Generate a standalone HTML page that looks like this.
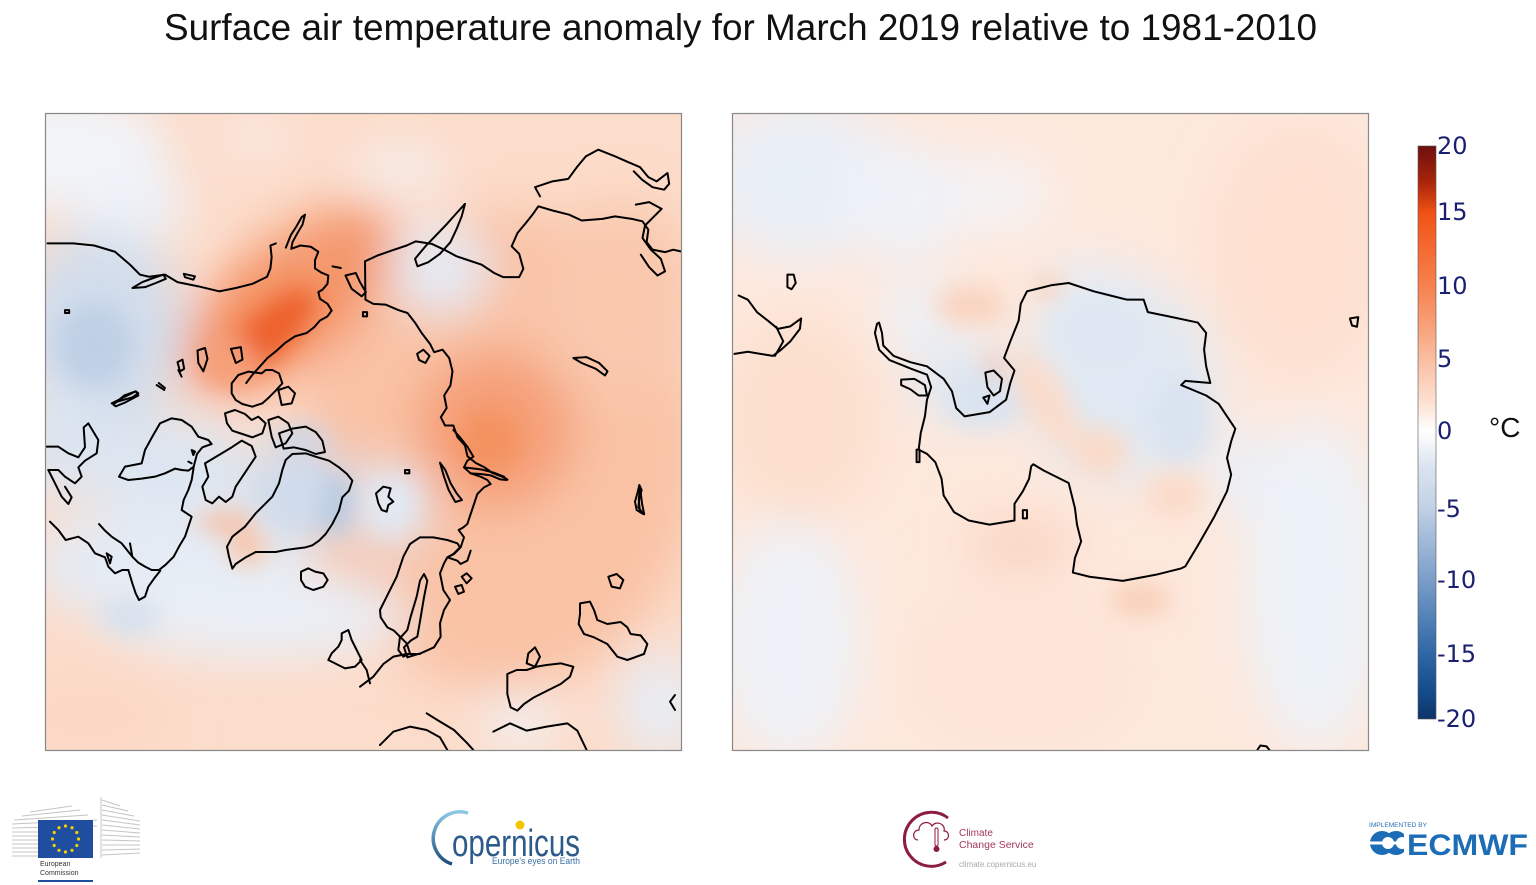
<!DOCTYPE html>
<html><head><meta charset="utf-8">
<style>
html,body{margin:0;padding:0;background:#fff;}
svg{display:block;}
text{font-family:"Liberation Sans",sans-serif;}
.cl path{fill:none;stroke:#000;stroke-width:2;stroke-linejoin:round;stroke-linecap:round;}
.cb text{font-family:"DejaVu Sans","Liberation Sans",sans-serif;font-size:24px;fill:#1b1f70;}
</style></head>
<body>
<svg width="1536" height="885" viewBox="0 0 1536 885" xmlns="http://www.w3.org/2000/svg">
<defs>
<clipPath id="cL"><rect x="45" y="113" width="637" height="638"/></clipPath>
<clipPath id="cR"><rect x="732" y="113" width="637" height="638"/></clipPath>
<filter id="b1" x="-60%" y="-60%" width="220%" height="220%"><feGaussianBlur stdDeviation="24"/></filter>
<filter id="b2" x="-60%" y="-60%" width="220%" height="220%"><feGaussianBlur stdDeviation="12"/></filter>
<linearGradient id="cbg" x1="0" y1="0" x2="0" y2="1">
<stop offset="0" stop-color="#6e0f0f"/>
<stop offset="0.06" stop-color="#a5230a"/>
<stop offset="0.117" stop-color="#f05214"/>
<stop offset="0.18" stop-color="#f56a32"/>
<stop offset="0.246" stop-color="#f6824f"/>
<stop offset="0.32" stop-color="#f8a47c"/>
<stop offset="0.373" stop-color="#fabea2"/>
<stop offset="0.45" stop-color="#fde2d4"/>
<stop offset="0.498" stop-color="#ffffff"/>
<stop offset="0.56" stop-color="#dbe4f0"/>
<stop offset="0.634" stop-color="#c0d0e5"/>
<stop offset="0.70" stop-color="#9ab5d6"/>
<stop offset="0.758" stop-color="#7a9dc9"/>
<stop offset="0.82" stop-color="#5483b8"/>
<stop offset="0.887" stop-color="#2f66a5"/>
<stop offset="0.95" stop-color="#154d8c"/>
<stop offset="1" stop-color="#0d3468"/>
</linearGradient>
<linearGradient id="cop" x1="0" y1="0" x2="0" y2="1">
<stop offset="0" stop-color="#8cc8e6"/>
<stop offset="1" stop-color="#1d4d7d"/>
</linearGradient>
</defs>

<rect width="1536" height="885" fill="#fff"/>

<!-- Title -->
<text x="164" y="40" font-size="37" fill="#111" textLength="1153" lengthAdjust="spacingAndGlyphs">Surface air temperature anomaly for March 2019 relative to 1981-2010</text>

<!-- LEFT MAP heat -->
<g clip-path="url(#cL)">
<rect x="45" y="113" width="637" height="638" fill="#fcdcca"/>
<g filter="url(#b1)">
<ellipse cx="500" cy="450" rx="200" ry="240" fill="#f9c2a5"/>
<ellipse cx="620" cy="300" rx="80" ry="100" fill="#f9c8ad"/>
<ellipse cx="60" cy="150" rx="110" ry="60" fill="#f1f4f9"/>
<ellipse cx="130" cy="205" rx="60" ry="40" fill="#eef2f8"/>
<ellipse cx="100" cy="330" rx="85" ry="100" fill="#d1ddec"/>
<ellipse cx="60" cy="440" rx="40" ry="60" fill="#dbe5f1"/>
<ellipse cx="170" cy="470" rx="85" ry="55" fill="#dde6f1"/>
<ellipse cx="170" cy="565" rx="140" ry="60" fill="#e4ebf4"/>
<ellipse cx="260" cy="615" rx="150" ry="45" fill="#e9eff6"/>
<ellipse cx="90" cy="715" rx="80" ry="45" fill="#fbd8c5"/>
<ellipse cx="300" cy="490" rx="48" ry="48" fill="#ccdaeb"/>
<ellipse cx="390" cy="505" rx="38" ry="42" fill="#e0e8f2"/>
<ellipse cx="440" cy="270" rx="50" ry="45" fill="#e4ebf4"/>
<ellipse cx="400" cy="168" rx="50" ry="20" fill="#f4f2f3"/>
<ellipse cx="255" cy="138" rx="40" ry="15" fill="#f6f1f0"/>
<ellipse cx="660" cy="705" rx="40" ry="55" fill="#e6edf5"/>
<ellipse cx="520" cy="722" rx="40" ry="28" fill="#f1f0f2"/>
<ellipse cx="290" cy="300" rx="125" ry="60" transform="rotate(-40 290 300)" fill="#f48f60"/>
<ellipse cx="320" cy="258" rx="50" ry="32" fill="#f49a70"/>
<ellipse cx="495" cy="430" rx="80" ry="80" fill="#f59f77"/>
</g>
<g filter="url(#b2)">
<ellipse cx="95" cy="345" rx="38" ry="42" fill="#bfd0e5"/>
<ellipse cx="268" cy="335" rx="62" ry="22" transform="rotate(-45 268 335)" fill="#ed6029"/>
<ellipse cx="228" cy="362" rx="30" ry="22" fill="#f6a07a"/>
<ellipse cx="335" cy="505" rx="16" ry="30" fill="#b4c8e0"/>
<ellipse cx="300" cy="440" rx="28" ry="12" fill="#c9d8ea"/>
<ellipse cx="295" cy="495" rx="32" ry="30" fill="#d0dcec"/>
<ellipse cx="392" cy="505" rx="22" ry="28" fill="#e2e9f3"/>
<ellipse cx="225" cy="522" rx="28" ry="10" fill="#f8bb9e"/>
<ellipse cx="248" cy="548" rx="20" ry="18" fill="#f9c6ab"/>
<ellipse cx="130" cy="617" rx="30" ry="18" fill="#d5e0ee"/>
<ellipse cx="490" cy="440" rx="30" ry="30" fill="#f4925f"/>
</g>
</g>

<!-- RIGHT MAP heat -->
<g clip-path="url(#cR)">
<rect x="732" y="113" width="637" height="638" fill="#fde8dc"/>
<g filter="url(#b1)">
<ellipse cx="1300" cy="250" rx="90" ry="130" fill="#fde0d0"/>
<ellipse cx="800" cy="420" rx="80" ry="100" fill="#fcdfcd"/>
<ellipse cx="800" cy="180" rx="95" ry="80" fill="#e9eff7"/>
<ellipse cx="905" cy="200" rx="60" ry="60" fill="#eef2f8"/>
<ellipse cx="920" cy="315" rx="40" ry="35" fill="#edf2f8"/>
<ellipse cx="960" cy="380" rx="50" ry="40" fill="#e0e8f3"/>
<ellipse cx="1120" cy="380" rx="95" ry="100" fill="#e0e9f3"/>
<ellipse cx="1090" cy="285" rx="45" ry="25" fill="#e6edf6"/>
<ellipse cx="790" cy="640" rx="70" ry="120" fill="#eef2f8"/>
<ellipse cx="1020" cy="670" rx="110" ry="80" fill="#fce4d6"/>
<ellipse cx="1315" cy="585" rx="70" ry="165" fill="#edf2f8"/>
<ellipse cx="1000" cy="195" rx="50" ry="40" fill="#f5f3f4"/>
<ellipse cx="1240" cy="470" rx="30" ry="45" fill="#eaeff7"/>
<ellipse cx="1020" cy="545" rx="55" ry="25" fill="#f9d3bf"/>
</g>
<g filter="url(#b2)">
<ellipse cx="985" cy="400" rx="40" ry="28" fill="#d9e3f0"/>
<ellipse cx="1180" cy="420" rx="30" ry="45" fill="#d9e3f0"/>
<ellipse cx="1100" cy="330" rx="50" ry="40" fill="#dfe8f2"/>
<ellipse cx="1045" cy="400" rx="22" ry="55" transform="rotate(-30 1045 400)" fill="#fbdcca"/>
<ellipse cx="970" cy="305" rx="35" ry="18" fill="#f9d2bd"/>
<ellipse cx="1140" cy="600" rx="30" ry="16" fill="#f8ceb6"/>
<ellipse cx="1100" cy="452" rx="28" ry="25" fill="#fbdac8"/>
<ellipse cx="1175" cy="495" rx="28" ry="22" fill="#fbdac8"/>
<ellipse cx="994" cy="366" rx="8" ry="10" fill="#f4b596"/>
<ellipse cx="1048" cy="287" rx="14" ry="8" fill="#f7c4a8"/>
</g>
</g>

<!-- LEFT coastlines (zoom4 coords) -->
<g class="cl" clip-path="url(#cL)">
<g transform="translate(40 108) scale(0.416667)">
<path vector-effect="non-scaling-stroke" d="M18,325 L80,325 L130,330 L180,345 L215,375 L240,400 L262,405 L300,400 L330,418 L380,428 L430,440 L470,432 L510,422 L545,405 L553,385 L556,358 L553,330 L566,325"/>
<path vector-effect="non-scaling-stroke" d="M590,335 L602,305 L615,285 L628,262 L636,256 L630,280 L618,300 L606,322 L603,338 L625,330 L650,333 L668,345 L660,365 L660,385 L675,395 L692,402 L690,422 L678,436 L668,442 L672,458 L690,470 L700,486 L690,500 L672,510 L658,526 L640,540 L612,548 L588,564 L566,584 L546,600 L528,620 L510,640 L495,660"/>
<path vector-effect="non-scaling-stroke" d="M222,432 L245,418 L272,408 L296,400 L302,410 L278,420 L252,430 Z"/>
<path vector-effect="non-scaling-stroke" d="M345,398 L372,404 L368,412 L348,406 Z"/>
<path vector-effect="non-scaling-stroke" d="M60,485 L70,485 L70,492 L60,492 Z"/>
<path vector-effect="non-scaling-stroke" d="M733,402 L758,396 L768,418 L782,442 L772,452 L748,434 Z"/>
<path vector-effect="non-scaling-stroke" d="M702,380 L722,384"/>
<path vector-effect="non-scaling-stroke" d="M780,368 L781,460 L800,470 L830,472 L860,485 L882,492 L900,515 L916,540 L936,566 L946,586 L966,580 L982,600 L990,632 L985,666 L970,690 L976,720 L962,742 L972,762 L992,762 L1002,790 L1020,810 L1026,836 L1046,852 L1066,862 L1086,876 L1112,886 L1122,892"/>
<path vector-effect="non-scaling-stroke" d="M780,368 L810,354 L850,340 L880,330 L902,320 L940,326 L970,340 L1000,356 L1030,366 L1060,376 L1090,396 L1112,406 L1150,406 L1160,386 L1150,350 L1132,332 L1146,300 L1166,276 L1182,256 L1196,236 L1230,246 L1270,256 L1300,270 L1350,266 L1380,260 L1420,266 L1446,272 L1460,292 L1456,322 L1470,340 L1500,346 L1520,340 L1546,346"/>
<path vector-effect="non-scaling-stroke" d="M1200,212 L1188,190 L1230,176 L1268,170 L1290,140 L1310,116 L1340,100 L1380,116 L1412,130 L1440,142 L1460,166 L1480,176 L1506,156 L1510,182 L1498,196 L1470,190 L1445,172 L1425,152"/>
<path vector-effect="non-scaling-stroke" d="M1430,232 L1462,226 L1492,242 L1472,262 L1452,282 L1446,312 L1466,340 L1490,362 L1500,392 L1482,402 L1462,382 L1442,352"/>
<path vector-effect="non-scaling-stroke" d="M1020,230 L1000,252 L975,280 L950,306 L925,332 L900,362 L906,380 L932,370 L960,350 L985,322 L1000,290 L1012,260 Z"/>
<path vector-effect="non-scaling-stroke" d="M1280,600 L1312,598 L1342,612 L1362,632 L1356,642 L1334,626 L1300,612 Z"/>
<path vector-effect="non-scaling-stroke" d="M1440,910 L1445,950 L1450,975 L1440,970 L1437,940 Z"/>
<path vector-effect="non-scaling-stroke" d="M378,582 L396,576 L402,602 L392,632 L380,612 Z"/>
<path vector-effect="non-scaling-stroke" d="M458,578 L482,574 L486,604 L470,612 Z"/>
<path vector-effect="non-scaling-stroke" d="M330,610 L342,604 L346,626 L336,632 Z"/>
<path vector-effect="non-scaling-stroke" d="M176,712 L202,690 L230,680 L236,690 L206,706 L182,716 Z"/>
<path vector-effect="non-scaling-stroke" d="M285,660 L300,672"/>
<path vector-effect="non-scaling-stroke" d="M775,490 L785,490 L785,500 L775,500 Z"/>
<path vector-effect="non-scaling-stroke" d="M905,590 L920,580 L935,595 L925,612 L910,605 Z"/>
</g>
<!-- zoom8 coords -->
<g transform="translate(45 370) scale(0.333333)">
<path vector-effect="non-scaling-stroke" d="M222,320 L240,290 L290,280 L300,240 L322,200 L345,160 L380,145 L410,150 L440,170 L460,200 L490,210 L500,222 L472,232 L456,252 L446,290 L430,302 L410,300 L390,296 L360,310 L330,320 L290,326 L250,330 Z"/>
<path vector-effect="non-scaling-stroke" d="M446,292 L440,330 L430,360 L416,390 L410,420 L440,440 L430,470 L420,500 L402,530 L386,560 L362,584 L342,600 L320,600 L300,590 L280,578 L262,560 L246,540 L230,520 L200,500 L180,482 L162,462"/>
<path vector-effect="non-scaling-stroke" d="M250,600 L262,640 L272,670 L282,690 L300,680 L310,650 L330,622 L346,602"/>
<path vector-effect="non-scaling-stroke" d="M15,455 L40,480 L62,510 L100,500 L130,520 L150,550 L180,562 L190,590 L210,610 L232,600 L250,600"/>
<path vector-effect="non-scaling-stroke" d="M5,230 L40,230 L70,250 L100,262 L120,232 L116,172 L130,160 L160,210 L155,250 L120,272 L100,292 L110,320 L90,340 L60,320 L40,300 L10,300"/>
<path vector-effect="non-scaling-stroke" d="M10,300 L30,340 L50,380 L70,402 L80,382 L60,350"/>
<path vector-effect="non-scaling-stroke" d="M200,100 L240,80 L272,64 L280,70 L262,82 Z"/>
<path vector-effect="non-scaling-stroke" d="M335,45 L358,60"/>
<path vector-effect="non-scaling-stroke" d="M400,0 L410,20"/>
<path vector-effect="non-scaling-stroke" d="M185,550 L195,580 L200,560 Z"/>
<path vector-effect="non-scaling-stroke" d="M255,520 L262,560"/>
<path vector-effect="non-scaling-stroke" d="M480,280 L500,268 L530,250 L560,232 L590,212 L620,228 L632,260 L612,290 L592,320 L572,350 L562,380 L542,396 L522,380 L502,400 L482,390 L472,350 L490,320 Z"/>
<path vector-effect="non-scaling-stroke" d="M560,40 L580,15 L610,5 L650,10 L662,0 L682,0 L702,10 L712,40 L692,62 L672,82 L652,100 L622,110 L592,102 L572,90 L560,70 Z"/>
<path vector-effect="non-scaling-stroke" d="M540,130 L570,120 L600,132 L620,150 L640,140 L662,160 L652,190 L622,202 L592,192 L562,182 L546,160 Z"/>
<path vector-effect="non-scaling-stroke" d="M670,150 L700,140 L730,160 L742,190 L722,220 L692,232 L680,200 Z"/>
<path vector-effect="non-scaling-stroke" d="M702,190 L742,176 L782,170 L812,186 L832,212 L840,246 L812,252 L782,240 L746,232 L716,236 Z"/>
<path vector-effect="non-scaling-stroke" d="M700,60 L730,50 L750,70 L740,100 L710,105 Z"/>
<path vector-effect="non-scaling-stroke" d="M552,560 L546,530 L562,500 L600,470 L632,430 L652,410 L682,380 L702,340 L712,300 L722,270 L742,252 L782,250 L812,260 L852,272 L882,292 L906,312 L922,332 L912,362 L892,382 L882,422 L862,462 L842,492 L822,512 L802,526 L782,532 L752,536 L722,540 L692,546 L662,546 L632,546 L602,562 L572,582 L562,596 Z"/>
<path vector-effect="non-scaling-stroke" d="M768,605 L790,595 L810,605 L835,610 L848,630 L835,650 L805,660 L780,650 L768,630 Z"/>
<path vector-effect="non-scaling-stroke" d="M440,240 L450,245 L445,255 Z"/>
<path vector-effect="non-scaling-stroke" d="M430,275 L440,280"/>
<path vector-effect="non-scaling-stroke" d="M890,790 L910,780 L920,810 L935,840 L950,870 L930,890 L900,895 L870,880 L850,870 L860,850 L880,830 L890,810 Z"/>
</g>
<!-- zoom9 coords -->
<g transform="translate(360 430) scale(0.333333)">
<path vector-effect="non-scaling-stroke" d="M280,0 L300,22 L322,50 L340,80 L322,92 L312,112 L332,130 L362,140 L382,150 L392,162 L372,172 L352,192 L342,222 L332,252 L322,282 L310,292 L296,300 L312,322 L302,352 L282,372 L262,382 L292,392 L302,402 L322,392 L332,362"/>
<path vector-effect="non-scaling-stroke" d="M312,112 L362,118 L402,128 L432,140 L440,150 L420,148 L392,136 L362,132 L332,130"/>
<path vector-effect="non-scaling-stroke" d="M240,98 L252,140 L266,180 L286,216 L306,210 L290,190 L272,160 L256,120 Z"/>
<path vector-effect="non-scaling-stroke" d="M48,190 L70,170 L92,175 L85,200 L100,215 L85,225 L80,245 L65,240 L55,220 Z"/>
<path vector-effect="non-scaling-stroke" d="M135,120 L148,120 L148,130 L135,130 Z"/>
<path vector-effect="non-scaling-stroke" d="M60,540 L80,500 L110,440 L130,380 L150,342 L180,322 L220,322 L262,330 L292,340 L300,352 L280,372 L262,382 L252,400 L240,430 L250,480 L270,510 L252,540 L240,580 L242,620 L222,652 L182,670 L142,682 L132,652 L152,632 L172,620 L182,562 L192,502 L202,452 L192,432 L180,452 L170,500 L152,560 L142,600 L122,622 L102,602 L82,592 L62,562 Z"/>
<path vector-effect="non-scaling-stroke" d="M305,440 L320,430 L335,445 L320,460 Z"/>
<path vector-effect="non-scaling-stroke" d="M285,470 L305,465 L312,485 L295,492 Z"/>
<path vector-effect="non-scaling-stroke" d="M120,620 L140,640 L150,670 L130,680 L115,660 Z"/>
<path vector-effect="non-scaling-stroke" d="M0,770 L40,740 L70,702 L100,680 L140,672 L180,672"/>
<path vector-effect="non-scaling-stroke" d="M0,690 L20,720 L30,760"/>
<path vector-effect="non-scaling-stroke" d="M442,732 L470,720 L500,720 L530,710 L560,705 L602,700 L640,710 L630,740 L602,762 L562,782 L522,802 L492,822 L472,842 L452,832 L442,792 L442,762 Z"/>
<path vector-effect="non-scaling-stroke" d="M500,700 L505,670 L525,652 L540,680 L525,710 Z"/>
<path vector-effect="non-scaling-stroke" d="M660,520 L690,515 L702,540 L712,570 L742,582 L782,576 L802,592 L812,612 L842,616 L862,642 L852,672 L802,690 L772,680 L742,642 L702,622 L672,612 L656,582 L660,552 Z"/>
<path vector-effect="non-scaling-stroke" d="M745,440 L770,432 L790,450 L780,475 L755,470 Z"/>
<path vector-effect="non-scaling-stroke" d="M838,165 L832,190 L825,215 L830,240 L850,252 L835,232 L838,205 L845,180 Z"/>
<path vector-effect="non-scaling-stroke" d="M60,945 L100,905 L150,890 L200,900 L240,922 L262,960"/>
<path vector-effect="non-scaling-stroke" d="M200,850 L232,870 L282,900 L322,940 L340,960"/>
<path vector-effect="non-scaling-stroke" d="M400,905 L450,880 L500,902 L560,890 L622,880 L652,902 L680,960"/>
<path vector-effect="non-scaling-stroke" d="M945,795 L930,815 L945,840"/>
</g>
</g>

<!-- RIGHT coastlines (zoom5 coords) -->
<g class="cl" clip-path="url(#cR)">
<g transform="translate(727 108) scale(0.416667)">
<path vector-effect="non-scaling-stroke" d="M365,515 L372,540 L375,570 L400,595 L440,610 L480,620 L520,650 L540,680 L550,720 L570,740 L630,730 L670,700 L680,660 L690,630 L665,600 L680,560 L700,510 L705,470 L720,440 L740,435 L780,425 L820,420 L850,430 L880,440 L920,450 L960,460 L1000,460 L1010,490 L1060,500 L1130,515 L1150,540 L1145,580 L1150,620 L1160,660 L1100,655 L1090,665 L1150,690 L1180,710 L1200,740 L1220,770 L1210,800 L1200,840 L1210,880 L1200,920 L1170,980 L1130,1050 L1100,1100 L1090,1105 L1030,1120 L950,1135 L870,1125 L830,1115 L835,1080 L850,1040 L840,1000 L835,960 L820,900 L790,885 L760,870 L735,855 L730,860 L725,890 L710,920 L690,950 L690,990 L630,1000 L580,990 L545,970 L520,930 L515,890 L500,850 L480,830 L460,820 L465,780 L475,740 L480,700 L490,670 L480,640 L440,625 L390,605 L365,580 L355,540 L360,518 Z"/>
<path vector-effect="non-scaling-stroke" d="M620,635 L640,630 L660,650 L655,680 L640,690 L625,670 Z"/>
<path vector-effect="non-scaling-stroke" d="M418,652 L450,650 L475,665 L480,690 L460,690 L440,675 L418,665 Z"/>
<path vector-effect="non-scaling-stroke" d="M615,695 L630,690 L625,710 Z"/>
<path vector-effect="non-scaling-stroke" d="M455,820 L462,820 L462,850 L455,850 Z"/>
<path vector-effect="non-scaling-stroke" d="M710,965 L720,965 L720,985 L710,985 Z"/>
<path vector-effect="non-scaling-stroke" d="M28,450 L50,460 L72,490 L100,512 L122,530 L152,524 L178,505 L175,530 L152,560 L130,580 L110,595 L80,590 L50,585 L18,590"/>
<path vector-effect="non-scaling-stroke" d="M118,525 L135,560 L115,595"/>
<path vector-effect="non-scaling-stroke" d="M145,400 L160,400 L165,420 L155,435 L145,430 Z"/>
<path vector-effect="non-scaling-stroke" d="M1495,505 L1515,502 L1512,525 L1500,522 Z"/>
<path vector-effect="non-scaling-stroke" d="M1270,1545 L1280,1530 L1295,1532 L1305,1545"/>
</g>
</g>

<!-- Frames -->
<rect x="45.5" y="113.5" width="636" height="637" fill="none" stroke="#888" stroke-width="1.2"/>
<rect x="732.5" y="113.5" width="636" height="637" fill="none" stroke="#888" stroke-width="1.2"/>

<!-- Colorbar -->
<g class="cb">
<rect x="1418" y="146" width="18" height="573" fill="url(#cbg)" stroke="#555" stroke-width="0.6"/>
<text x="1437" y="154">20</text>
<text x="1437" y="220">15</text>
<text x="1437" y="294">10</text>
<text x="1437" y="367">5</text>
<text x="1437" y="439">0</text>
<text x="1437" y="517">-5</text>
<text x="1437" y="588">-10</text>
<text x="1437" y="662">-15</text>
<text x="1437" y="727">-20</text>
</g>
<text x="1489" y="437" font-size="28" fill="#111">°C</text>

<!-- EC logo -->
<g stroke="#c4c4c4" stroke-width="1">
<line x1="30" y1="812" x2="72" y2="806"/>
<line x1="22" y1="816" x2="80" y2="810"/>
<line x1="14" y1="820" x2="88" y2="815"/>
<line x1="12" y1="824" x2="97" y2="820"/>
<line x1="12" y1="828" x2="97" y2="826"/>
<line x1="12" y1="832" x2="38" y2="832"/>
<line x1="12" y1="836" x2="38" y2="836"/>
<line x1="12" y1="840" x2="38" y2="840"/>
<line x1="12" y1="844" x2="38" y2="844"/>
<line x1="12" y1="848" x2="38" y2="848"/>
<line x1="12" y1="852" x2="38" y2="852"/>
<line x1="12" y1="856" x2="38" y2="856"/>
<line x1="101" y1="797" x2="101" y2="858"/>
<line x1="102" y1="800" x2="120" y2="806"/>
<line x1="102" y1="805" x2="128" y2="811"/>
<line x1="102" y1="810" x2="134" y2="816"/>
<line x1="102" y1="815" x2="140" y2="821"/>
<line x1="102" y1="820" x2="140" y2="825"/>
<line x1="102" y1="825" x2="140" y2="829"/>
<line x1="102" y1="830" x2="140" y2="833"/>
<line x1="102" y1="835" x2="140" y2="837"/>
<line x1="102" y1="840" x2="140" y2="841"/>
<line x1="102" y1="845" x2="140" y2="845"/>
<line x1="102" y1="850" x2="140" y2="849"/>
<line x1="102" y1="855" x2="140" y2="853"/>
</g>
<rect x="38" y="820" width="55" height="38" fill="#1f4ea1"/>
<g fill="#f5d000">
<circle cx="65.5" cy="826" r="1.6"/><circle cx="72" cy="827.7" r="1.6"/><circle cx="76.8" cy="832.5" r="1.6"/>
<circle cx="78.5" cy="839" r="1.6"/><circle cx="76.8" cy="845.5" r="1.6"/><circle cx="72" cy="850.3" r="1.6"/>
<circle cx="65.5" cy="852" r="1.6"/><circle cx="59" cy="850.3" r="1.6"/><circle cx="54.2" cy="845.5" r="1.6"/>
<circle cx="52.5" cy="839" r="1.6"/><circle cx="54.2" cy="832.5" r="1.6"/><circle cx="59" cy="827.7" r="1.6"/>
</g>
<text x="40" y="866" font-size="7" fill="#333">European</text>
<text x="40" y="875" font-size="7" fill="#333">Commission</text>
<rect x="38" y="880" width="55" height="2" fill="#1f4ea1"/>

<!-- Copernicus -->
<path d="M468,813 A26,26 0 1,0 452,864" fill="none" stroke="url(#cop)" stroke-width="3.5"/>
<text x="452" y="856" font-size="38" fill="#2c5b8a" textLength="128" lengthAdjust="spacingAndGlyphs">opernicus</text>
<circle cx="520" cy="825" r="4.5" fill="#f2c500"/>
<text x="492" y="864" font-size="9" fill="#3a6ea5" textLength="88" lengthAdjust="spacingAndGlyphs">Europe's eyes on Earth</text>

<!-- Climate Change Service -->
<path d="M948,818 A27,27 0 1,0 946,862" fill="none" stroke="#8c1d40" stroke-width="3"/>
<path d="M918,840 C912,840 912,830 919,830 C919,822 929,820 932,826 C936,820 946,824 944,831 C950,831 950,840 944,840" fill="none" stroke="#8c1d40" stroke-width="1.2"/>
<rect x="935" y="828" width="3" height="18" rx="1.5" fill="none" stroke="#8c1d40" stroke-width="1"/>
<circle cx="936.5" cy="849" r="3" fill="#8c1d40"/>
<text x="959" y="836" font-size="10" fill="#a3385b">Climate</text>
<text x="959" y="848" font-size="10.5" fill="#a3385b">Change Service</text>
<text x="959" y="867" font-size="8" fill="#a8a8a8">climate.copernicus.eu</text>

<!-- ECMWF -->
<text x="1369" y="827" font-size="6" fill="#2870b8" textLength="58" lengthAdjust="spacingAndGlyphs">IMPLEMENTED BY</text>
<g fill="#1c6db5">
<circle cx="1382" cy="843" r="12"/>
<circle cx="1396" cy="843" r="12"/>
</g>
<g fill="#fff">
<circle cx="1388" cy="843" r="6"/>
<circle cx="1402" cy="843" r="6"/>
<rect x="1366" y="841.5" width="42" height="3"/>
</g>
<rect x="1404" y="830" width="4" height="26" fill="#fff"/>
<text x="1407" y="855" font-size="30" font-weight="bold" fill="#1c6db5" textLength="121" lengthAdjust="spacingAndGlyphs">ECMWF</text>
</svg>
</body></html>
